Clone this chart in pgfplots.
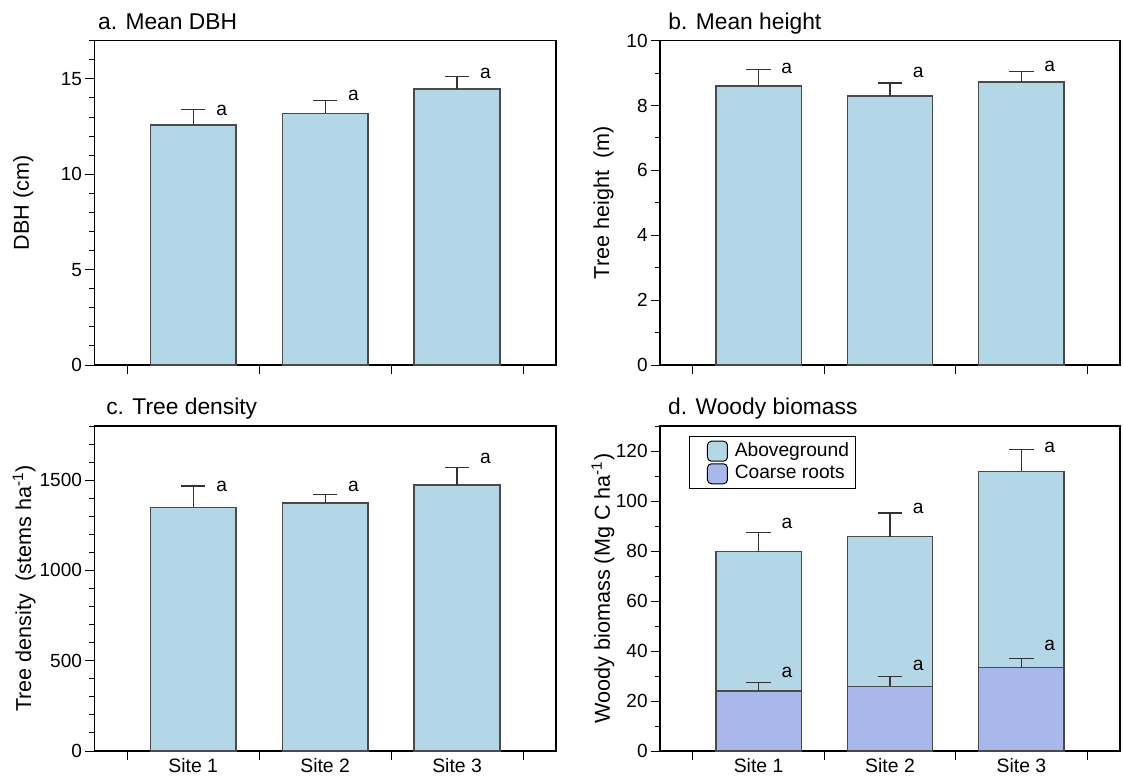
\documentclass[border=0pt]{standalone}
\usepackage{fontspec}
\setmainfont{Liberation Sans}
\usepackage{pgfplots}
\pgfplotsset{compat=1.18}
\definecolor{barblue}{HTML}{B4D7E8}
\definecolor{rootblue}{HTML}{A8B8EA}
\definecolor{bargray}{HTML}{4A4A4A}
\definecolor{errgray}{HTML}{333333}
\tikzset{lett/.style={font=\fontsize{9.6}{11}\selectfont, inner sep=0pt}}
\pgfplotsset{
  panel/.style={
    scale only axis, ybar, bar width=0.65, bar shift=0pt,
    xmin=0.25, xmax=3.75, ymin=0,
    axis line style={line width=0.6pt},
    tick align=outside, tick pos=left,
    major tick length=4.5pt, minor tick length=2.5pt,
    every tick/.style={black, line width=0.5pt},
    xtick={0.5,1.5,2.5,3.5}, xticklabels={},
    extra x ticks={1,2,3}, extra x tick labels={},
    extra x tick style={major tick length=0pt, tick label style={font=\fontsize{9.7}{11}\selectfont, inner sep=3.5pt}},
    ticklabel style={font=\fontsize{9.5}{11}\selectfont},
    yticklabel style={inner sep=1.5pt},
    /pgf/number format/assume math mode=true,
    /pgf/number format/1000 sep={},
    scaled y ticks=false,
    ylabel style={font=\fontsize{10.8}{12}\selectfont, anchor=center},
    title style={at={(axis description cs:0,1)}, anchor=base west, inner sep=0pt, yshift=-0.3pt, xshift=1.7pt, font=\fontsize{11.4}{13}\selectfont},
  },
  bars/.style={fill=#1, draw=bargray, line width=0.75pt,
      error bars/y dir=plus, error bars/y explicit,
      error bars/error bar style={line width=0.65pt, draw=errgray},
      error bars/error mark options={rotate=90, mark size=6.1pt, line width=0.65pt, draw=errgray}},
}
\begin{document}
\begin{tikzpicture}
\path[use as bounding box] (0pt,0pt) rectangle (561.5pt,389pt);
% a
\begin{axis}[panel, at={(47.15pt,206.5pt)}, anchor=south west, width=230.85pt, height=162.15pt,
  ymax=17, ytick={0,5,10,15}, minor ytick={1,2,...,17},
  ylabel={DBH (cm)}, ylabel style={at={(axis description cs:-0.154,0.5)}},
  title={a. Mean DBH}]
\addplot[bars=barblue] coordinates {(1,12.59) +- (0,0.79) (2,13.19) +- (0,0.66) (3,14.48) +- (0,0.64)};
\node[lett] at (axis cs:1.215,13.34) {a};
\node[lett] at (axis cs:2.215,14.13) {a};
\node[lett] at (axis cs:3.215,15.30) {a};
\end{axis}
% b
\begin{axis}[panel, at={(330pt,206.5pt)}, anchor=south west, width=230pt, height=162.15pt,
  ymax=10, ytick={0,2,4,6,8,10}, minor ytick={1,2,...,10},
  ylabel={Tree height\ \ (m)}, ylabel style={at={(axis description cs:-0.123,0.5)}},
  title={b. Mean height}, title style={xshift=2.3pt}]
\addplot[bars=barblue] coordinates {(1,8.60) +- (0,0.51) (2,8.30) +- (0,0.40) (3,8.72) +- (0,0.33)};
\node[lett] at (axis cs:1.215,9.15) {a};
\node[lett] at (axis cs:2.215,9.01) {a};
\node[lett] at (axis cs:3.215,9.22) {a};
\end{axis}
% c
\begin{axis}[panel, at={(47.15pt,13.5pt)}, anchor=south west, width=230.85pt, height=162.5pt,
  ymax=1800, ytick={0,500,1000,1500}, minor ytick={100,200,...,1800},
  extra x tick labels={Site 1,Site 2,Site 3},
  ylabel={Tree density\ \ (stems ha\textsuperscript{-1})}, ylabel style={at={(axis description cs:-0.152,0.5)}},
  title={c. Tree density}, title style={xshift=4.1pt}]
\addplot[bars=barblue] coordinates {(1,1350) +- (0,118) (2,1374) +- (0,48) (3,1474) +- (0,96)};
\node[lett] at (axis cs:1.215,1465) {a};
\node[lett] at (axis cs:2.215,1465) {a};
\node[lett] at (axis cs:3.215,1622) {a};
\end{axis}
% d
\begin{axis}[panel, at={(330pt,13.5pt)}, anchor=south west, width=230pt, height=162.5pt,
  ymax=130, ytick={0,20,...,120}, minor ytick={10,20,...,130},
  extra x tick labels={Site 1,Site 2,Site 3},
  ylabel={Woody biomass (Mg C ha\textsuperscript{-1})}, ylabel style={at={(axis description cs:-0.124,0.5)}},
  title={d. Woody biomass}, title style={xshift=2.2pt},
  legend cell align=left,
  legend image code/.code={\path (0pt,0pt); \draw[#1, draw=black, line width=0.5pt, rounded corners=2pt] (5.8pt,-5pt) rectangle (15.8pt,5pt);},
  legend style={at={(axis description cs:0.062,0.969)}, anchor=north west, draw=black, line width=0.6pt,
    font=\fontsize{9.6}{11}\selectfont, inner xsep=3pt, inner ysep=2pt, column sep=3pt, row sep=0.8pt,
    nodes={inner sep=0.4pt, text height=7pt, text depth=2pt}}]
% total height (aboveground stacked on coarse roots)
\addplot[bars=barblue] coordinates {(1,79.8) +- (0,7.6) (2,85.8) +- (0,9.4) (3,111.9) +- (0,8.8)};
\addlegendentry{Aboveground}
\addplot[bars=rootblue] coordinates {(1,24.0) +- (0,3.4) (2,25.9) +- (0,3.9) (3,33.4) +- (0,3.6)};
\addlegendentry{Coarse roots}
\node[lett] at (axis cs:1.215,91.2) {a};
\node[lett] at (axis cs:2.215,97.2) {a};
\node[lett] at (axis cs:3.215,121.6) {a};
\node[lett] at (axis cs:1.215,31.5) {a};
\node[lett] at (axis cs:2.215,34.4) {a};
\node[lett] at (axis cs:3.215,42.2) {a};
\end{axis}
\end{tikzpicture}
\end{document}
